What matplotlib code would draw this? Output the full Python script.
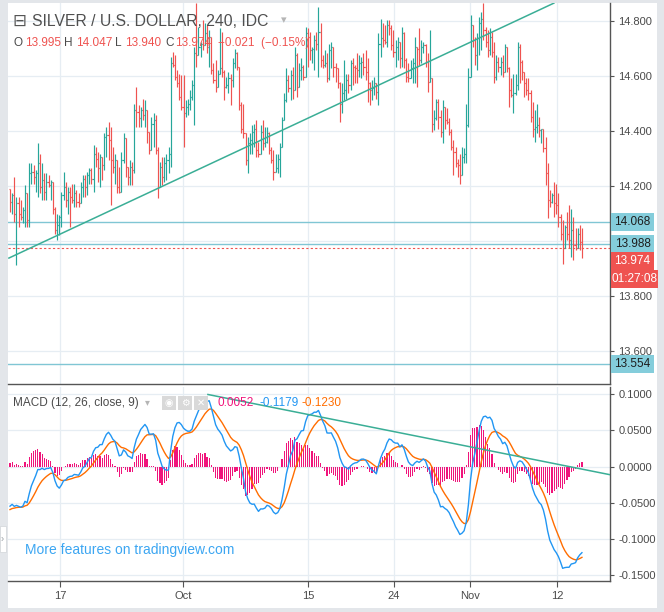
import numpy as np
import matplotlib
matplotlib.use('Agg')
import matplotlib.pyplot as plt
from matplotlib.patches import Rectangle

plt.rcParams['font.family'] = ['Liberation Sans', 'DejaVu Sans']

# colours
C_UP = '#26a69a'
C_DOWN = '#ef5350'
C_TEXT = '#4a4a4a'
C_GRID = '#e6edf3'
C_AXIS = '#555555'
C_LEVEL = '#80c6d4'
C_TAG = '#84cddb'
C_TREND = '#3aae96'
C_MACD = '#2196f3'
C_SIGNAL = '#ff6d00'
C_HIST = '#f0147b'

# ---- 4h bars, SILVER / USD (open = previous close) ----
first_open = 14.190
highs = [
    14.179, 14.173, 14.234, 14.161, 14.161, 14.149, 14.125, 14.203, 14.143, 14.282,
    14.282, 14.276, 14.258, 14.355, 14.318, 14.282, 14.246, 14.246, 14.240, 14.221,
    14.209, 14.125, 14.100, 14.094, 14.179, 14.252, 14.215, 14.197, 14.197, 14.209,
    14.209, 14.185, 14.173, 14.215, 14.240, 14.240, 14.252, 14.264, 14.264, 14.349,
    14.343, 14.324, 14.318, 14.282, 14.391, 14.415, 14.434, 14.415, 14.343, 14.318,
    14.294, 14.270, 14.324, 14.391, 14.355, 14.270, 14.294, 14.288, 14.500, 14.561,
    14.494, 14.488, 14.518, 14.512, 14.446, 14.391, 14.452, 14.464, 14.458, 14.343,
    14.288, 14.306, 14.306, 14.318, 14.343, 14.670, 14.688, 14.676, 14.621, 14.609,
    14.603, 14.603, 14.512, 14.518, 14.549, 14.585, 14.706, 14.864, 14.779, 14.725,
    14.803, 14.791, 14.785, 14.767, 14.743, 14.646, 14.658, 14.621, 14.773, 14.761,
    14.621, 14.597, 14.615, 14.609, 14.664, 14.700, 14.688, 14.634, 14.506, 14.500,
    14.391, 14.379, 14.391, 14.421, 14.427, 14.440, 14.361, 14.421, 14.440, 14.415,
    14.415, 14.397, 14.343, 14.330, 14.318, 14.318, 14.355, 14.452, 14.537, 14.628,
    14.603, 14.621, 14.634, 14.706, 14.682, 14.646, 14.664, 14.640, 14.779, 14.773,
    14.761, 14.706, 14.749, 14.761, 14.852, 14.791, 14.676, 14.694, 14.682, 14.718,
    14.725, 14.700, 14.646, 14.615, 14.579, 14.573, 14.658, 14.609, 14.609, 14.658,
    14.664, 14.640, 14.682, 14.676, 14.670, 14.682, 14.694, 14.664, 14.579, 14.585,
    14.597, 14.561, 14.755, 14.809, 14.791, 14.785, 14.803, 14.803, 14.785, 14.767,
    14.731, 14.743, 14.725, 14.779, 14.761, 14.664, 14.646, 14.658, 14.664, 14.743,
    14.706, 14.773, 14.731, 14.725, 14.718, 14.682, 14.767, 14.537, 14.476, 14.518,
    14.518, 14.476, 14.512, 14.488, 14.482, 14.446, 14.409, 14.367, 14.343, 14.300,
    14.318, 14.343, 14.337, 14.500, 14.628, 14.822, 14.773, 14.743, 14.755, 14.815,
    14.834, 14.864, 14.779, 14.767, 14.773, 14.761, 14.725, 14.676, 14.670, 14.670,
    14.676, 14.718, 14.700, 14.634, 14.591, 14.609, 14.609, 14.725, 14.718, 14.658,
    14.615, 14.591, 14.591, 14.549, 14.506, 14.476, 14.500, 14.452, 14.409, 14.409,
    14.379, 14.282, 14.185, 14.173, 14.215, 14.209, 14.173, 14.100, 14.076, 14.058,
    14.106, 14.131, 14.118, 14.088, 14.046, 14.046, 14.058, 14.047,
]
lows = [
    14.106, 14.100, 14.070, 13.912, 14.052, 14.076, 14.064, 14.052, 14.052, 14.052,
    14.209, 14.209, 14.179, 14.161, 14.173, 14.149, 14.149, 14.149, 14.197, 14.149,
    14.100, 14.027, 14.003, 14.021, 14.052, 14.149, 14.125, 14.100, 14.052, 14.137,
    14.125, 14.125, 14.125, 14.149, 14.161, 14.161, 14.167, 14.209, 14.209, 14.179,
    14.270, 14.215, 14.197, 14.221, 14.258, 14.306, 14.294, 14.131, 14.246, 14.209,
    14.173, 14.173, 14.246, 14.282, 14.234, 14.203, 14.203, 14.203, 14.246, 14.415,
    14.415, 14.415, 14.440, 14.415, 14.355, 14.318, 14.330, 14.343, 14.318, 14.155,
    14.221, 14.203, 14.215, 14.221, 14.246, 14.270, 14.634, 14.585, 14.561, 14.512,
    14.476, 14.343, 14.452, 14.458, 14.476, 14.512, 14.421, 14.634, 14.682, 14.670,
    14.694, 14.718, 14.682, 14.634, 14.609, 14.573, 14.543, 14.561, 14.609, 14.597,
    14.512, 14.555, 14.537, 14.494, 14.561, 14.628, 14.621, 14.476, 14.391, 14.373,
    14.276, 14.246, 14.318, 14.318, 14.343, 14.306, 14.306, 14.318, 14.330, 14.343,
    14.355, 14.318, 14.282, 14.221, 14.258, 14.246, 14.234, 14.343, 14.440, 14.506,
    14.543, 14.512, 14.518, 14.573, 14.524, 14.573, 14.585, 14.585, 14.621, 14.634,
    14.658, 14.646, 14.621, 14.694, 14.597, 14.634, 14.628, 14.634, 14.579, 14.585,
    14.628, 14.597, 14.579, 14.555, 14.434, 14.464, 14.512, 14.518, 14.537, 14.549,
    14.567, 14.573, 14.573, 14.597, 14.591, 14.603, 14.585, 14.506, 14.494, 14.512,
    14.531, 14.518, 14.494, 14.670, 14.706, 14.718, 14.706, 14.749, 14.694, 14.670,
    14.634, 14.658, 14.628, 14.634, 14.628, 14.579, 14.579, 14.609, 14.573, 14.573,
    14.561, 14.640, 14.646, 14.682, 14.634, 14.543, 14.585, 14.397, 14.403, 14.440,
    14.409, 14.379, 14.355, 14.409, 14.427, 14.385, 14.330, 14.240, 14.270, 14.234,
    14.209, 14.240, 14.282, 14.282, 14.415, 14.597, 14.706, 14.640, 14.621, 14.676,
    14.694, 14.731, 14.706, 14.670, 14.676, 14.670, 14.573, 14.585, 14.615, 14.603,
    14.597, 14.634, 14.615, 14.488, 14.524, 14.464, 14.531, 14.549, 14.573, 14.585,
    14.524, 14.531, 14.512, 14.434, 14.379, 14.361, 14.391, 14.379, 14.355, 14.324,
    14.203, 14.082, 14.125, 14.137, 14.088, 14.100, 14.052, 14.003, 13.918, 13.973,
    14.003, 13.973, 13.943, 13.931, 13.967, 13.973, 13.967, 13.940,
]
closes = [
    14.143, 14.167, 14.100, 14.137, 14.100, 14.088, 14.112, 14.173, 14.076, 14.246,
    14.252, 14.234, 14.246, 14.282, 14.197, 14.221, 14.179, 14.215, 14.203, 14.215,
    14.118, 14.040, 14.058, 14.088, 14.167, 14.197, 14.149, 14.179, 14.161, 14.149,
    14.173, 14.143, 14.137, 14.197, 14.227, 14.197, 14.240, 14.258, 14.227, 14.318,
    14.300, 14.264, 14.306, 14.276, 14.379, 14.385, 14.367, 14.294, 14.270, 14.294,
    14.197, 14.179, 14.294, 14.373, 14.270, 14.234, 14.270, 14.258, 14.476, 14.470,
    14.446, 14.476, 14.458, 14.476, 14.397, 14.330, 14.427, 14.440, 14.330, 14.197,
    14.270, 14.234, 14.282, 14.294, 14.318, 14.646, 14.640, 14.597, 14.573, 14.524,
    14.488, 14.464, 14.488, 14.500, 14.524, 14.567, 14.682, 14.676, 14.706, 14.718,
    14.712, 14.755, 14.706, 14.743, 14.621, 14.585, 14.561, 14.609, 14.628, 14.615,
    14.561, 14.567, 14.591, 14.585, 14.646, 14.682, 14.634, 14.494, 14.409, 14.391,
    14.294, 14.355, 14.367, 14.397, 14.409, 14.330, 14.318, 14.397, 14.355, 14.361,
    14.391, 14.330, 14.294, 14.252, 14.264, 14.300, 14.343, 14.440, 14.512, 14.585,
    14.555, 14.603, 14.549, 14.676, 14.561, 14.621, 14.634, 14.597, 14.755, 14.743,
    14.694, 14.700, 14.731, 14.718, 14.761, 14.658, 14.640, 14.646, 14.591, 14.694,
    14.706, 14.634, 14.628, 14.573, 14.500, 14.537, 14.549, 14.585, 14.567, 14.646,
    14.634, 14.628, 14.621, 14.646, 14.652, 14.634, 14.615, 14.573, 14.549, 14.555,
    14.573, 14.543, 14.718, 14.737, 14.731, 14.725, 14.785, 14.773, 14.712, 14.688,
    14.706, 14.725, 14.664, 14.755, 14.658, 14.597, 14.591, 14.628, 14.646, 14.706,
    14.700, 14.658, 14.706, 14.712, 14.652, 14.579, 14.591, 14.427, 14.446, 14.506,
    14.452, 14.397, 14.488, 14.440, 14.434, 14.397, 14.343, 14.324, 14.282, 14.276,
    14.240, 14.306, 14.318, 14.421, 14.597, 14.785, 14.731, 14.676, 14.737, 14.791,
    14.809, 14.767, 14.725, 14.694, 14.743, 14.688, 14.597, 14.652, 14.634, 14.652,
    14.615, 14.706, 14.628, 14.549, 14.531, 14.537, 14.567, 14.706, 14.652, 14.615,
    14.573, 14.549, 14.537, 14.452, 14.409, 14.415, 14.421, 14.403, 14.409, 14.337,
    14.246, 14.149, 14.143, 14.167, 14.137, 14.131, 14.088, 14.027, 13.973, 14.052,
    14.027, 14.003, 14.040, 13.985, 13.973, 14.027, 13.995, 13.974,
]

# date axis (bar index where the label sits)
date_labels = ['17', 'Oct', '15', '24', 'Nov', '12']
date_bars = [23.3, 80.8, 139.1, 179.3, 214.8, 255.4]

price_ticks = [13.6, 13.8, 14.0, 14.2, 14.4, 14.6, 14.8]
hidden_price_ticks = [14.0]   # covered by the level tags in the reference
macd_ticks = [-0.15, -0.10, -0.05, 0.0, 0.05, 0.10]

# horizontal levels, last price tag, bar countdown
level_prices = [14.068, 13.988, 13.554]
countdown = '01:27:08'

# drawn trend lines (bar index, value)
trend_price_x = [-0.5, 253.9]
trend_price_y = [13.938, 14.865]
trend_macd_x = [92.4, 280.1]
trend_macd_y = [0.100, -0.0114]

# MACD(12, 26, 9) state before the first visible bar
ema26_seed = 14.250
macd_seed = -0.055
signal_seed = -0.061
macd_legend = ['0.0052', '-0.1179', '-0.1230']

# ---------------------------------------------------------------
n = len(closes)
x = np.arange(n)
opens = np.array([first_open] + closes[:-1])
cl = np.array(closes)
hi = np.maximum(np.array(highs), np.maximum(opens, cl))
lo = np.minimum(np.array(lows), np.minimum(opens, cl))
bar_cols = [C_UP if c >= o else C_DOWN for o, c in zip(opens, cl)]

e26 = ema26_seed
e12 = ema26_seed + macd_seed
sig = signal_seed
macd, signal = [], []
for c in cl:
    e12 += 2.0 / 13 * (c - e12)
    e26 += 2.0 / 27 * (c - e26)
    m = e12 - e26
    sig += 2.0 / 10 * (m - sig)
    macd.append(m)
    signal.append(sig)
macd = np.array(macd)
signal = np.array(signal)
hist = macd - signal

W, H = 664, 612
def fx(px):
    return px / W
def fy(py):
    return 1 - py / H

fig = plt.figure(figsize=(W / 100, H / 100), dpi=100, facecolor='#e3e6ea')
fig.patches.append(Rectangle((fx(8), fy(608)), fx(657) - fx(8), fy(3) - fy(608),
                             transform=fig.transFigure, fc='white', ec='none', zorder=-10))
# little collapse tab on the left edge
fig.patches.append(Rectangle((fx(0), fy(552)), fx(6), fy(526) - fy(552),
                             transform=fig.transFigure, fc='white', ec='#d0d4d8', lw=0.5, zorder=-9))
fig.text(fx(2.5), fy(539), '\u203a', fontsize=7, color='#9aa0a6', ha='center', va='center')

ax = fig.add_axes([fx(8), fy(384), fx(610) - fx(8), fy(3) - fy(384)])
axm = fig.add_axes([fx(8), fy(581), fx(610) - fx(8), fy(387) - fy(581)])

xlim = (-0.93, 280.1)
for a in (ax, axm):
    a.set_facecolor('white')
    a.set_xlim(*xlim)
    for s in ('left', 'top'):
        a.spines[s].set_visible(False)
    for s in ('right', 'bottom'):
        a.spines[s].set_color(C_AXIS)
        a.spines[s].set_linewidth(1.0)
    a.yaxis.tick_right()
    a.set_xticks(date_bars)
    a.grid(True, color=C_GRID, lw=0.9, zorder=0)
    a.set_axisbelow(True)
    a.tick_params(axis='y', direction='out', length=3, color=C_AXIS,
                  labelsize=8, labelcolor=C_TEXT, pad=3)

ax.set_ylim(13.48, 14.8655)
ax.set_yticks(price_ticks)
ax.set_yticklabels(['' if p in hidden_price_ticks else '%.3f' % p for p in price_ticks])
ax.tick_params(axis='x', length=0, labelbottom=False)

axm.set_ylim(-0.159, 0.1104)
axm.set_yticks(macd_ticks)
axm.set_yticklabels(['%.4f' % v for v in macd_ticks])
axm.set_xticklabels(date_labels)
axm.tick_params(axis='x', direction='out', length=4, color=C_AXIS,
                labelsize=8, labelcolor=C_TEXT, pad=3)

# price bars
ax.vlines(x, lo, hi, colors=bar_cols, lw=0.85, zorder=3)
ax.hlines(opens, x - 0.5, x, colors=bar_cols, lw=0.85, zorder=3)
ax.hlines(cl, x, x + 0.5, colors=bar_cols, lw=0.85, zorder=3)

for lvl in level_prices:
    ax.axhline(lvl, color=C_LEVEL, lw=1.0, zorder=2)
ax.axhline(cl[-1], color=C_DOWN, lw=0.8, ls=(0, (2, 2)), zorder=2)
ax.plot(trend_price_x, trend_price_y, color=C_TREND, lw=1.1, zorder=4)


# price scale tags (sized boxes on the right scale)
def scale_tag(price, text, fc, tc, shift=0.0, width=43):
    yd = ax.transData.transform((0, price))[1] - shift
    fig.patches.append(Rectangle((fx(611), (yd - 9) / H), width / W, 18 / H,
                                 transform=fig.transFigure, fc=fc, ec='none', zorder=20))
    fig.text(fx(611 + width / 2), yd / H, text, fontsize=8.5, color=tc,
             ha='center', va='center', zorder=21)


for lvl in level_prices:
    scale_tag(lvl, '%.3f' % lvl, C_TAG, '#1e1e1e')
scale_tag(cl[-1], '%.3f' % cl[-1], C_DOWN, 'white', shift=12.5)
scale_tag(cl[-1], countdown, C_DOWN, 'white', shift=30.5, width=47)

# MACD pane
axm.bar(x, hist, width=0.55, color=C_HIST, zorder=2)
axm.plot(x, signal, color=C_SIGNAL, lw=1.0, zorder=3)
axm.plot(x, macd, color=C_MACD, lw=1.0, zorder=4)
axm.plot(trend_macd_x, trend_macd_y, color=C_TREND, lw=1.1, zorder=5)

# header
fig.text(fx(12), fy(21), '\u229f', fontsize=12, color='#555555', va='center',
         family='DejaVu Sans')
fig.text(fx(32), fy(21), 'SILVER / U.S. DOLLAR, 240, IDC', fontsize=11.3,
         color='#4f4f4f', va='center')
fig.text(fx(281), fy(20), '\u25be', fontsize=8, color='#b5b5b5', va='center',
         family='DejaVu Sans')

chg = cl[-1] - opens[-1]
pct = chg / opens[-1] * 100
ohlc = [('O', 13, opens[-1], 25), ('H', 64, hi[-1], 76),
        ('L', 115, lo[-1], 125), ('C', 165, cl[-1], 175)]
for lab, lx, val, vx in ohlc:
    fig.text(fx(lx), fy(43), lab, fontsize=8.5, color=C_TEXT, va='center')
    fig.text(fx(vx), fy(43), '%.3f' % val, fontsize=8.5, color=C_DOWN, va='center')
fig.text(fx(218), fy(43), '\u2212%.3f  (\u2212%.2f%%)' % (abs(chg), abs(pct)),
         fontsize=8.5, color=C_DOWN, va='center')

# MACD legend
fig.text(fx(13), fy(403), 'MACD (12, 26, close, 9)', fontsize=8.5, color=C_TEXT,
         va='center')
fig.text(fx(145), fy(402), '\u25be', fontsize=7, color='#b5b5b5', va='center',
         family='DejaVu Sans')
for ix, glyph in zip([162, 178, 194], ['\u25c9', '\u2699', '\u2715']):
    fig.patches.append(Rectangle((fx(ix), fy(410)), fx(14), fy(396) - fy(410),
                                 transform=fig.transFigure, fc='#d9d9d9', ec='none',
                                 zorder=5))
    fig.text(fx(ix + 7), fy(403), glyph, fontsize=7, color='white', ha='center',
             va='center', family='DejaVu Sans', zorder=6)
for vx, txt, col in zip([218, 260, 302], macd_legend, [C_HIST, C_MACD, C_SIGNAL]):
    fig.text(fx(vx), fy(403), txt, fontsize=8.5, color=col, va='center')

fig.text(fx(25), fy(550), 'More features on tradingview.com', fontsize=10,
         color='#3ca6f2', va='center')

fig.savefig('out.png', dpi=100, facecolor=fig.get_facecolor())
